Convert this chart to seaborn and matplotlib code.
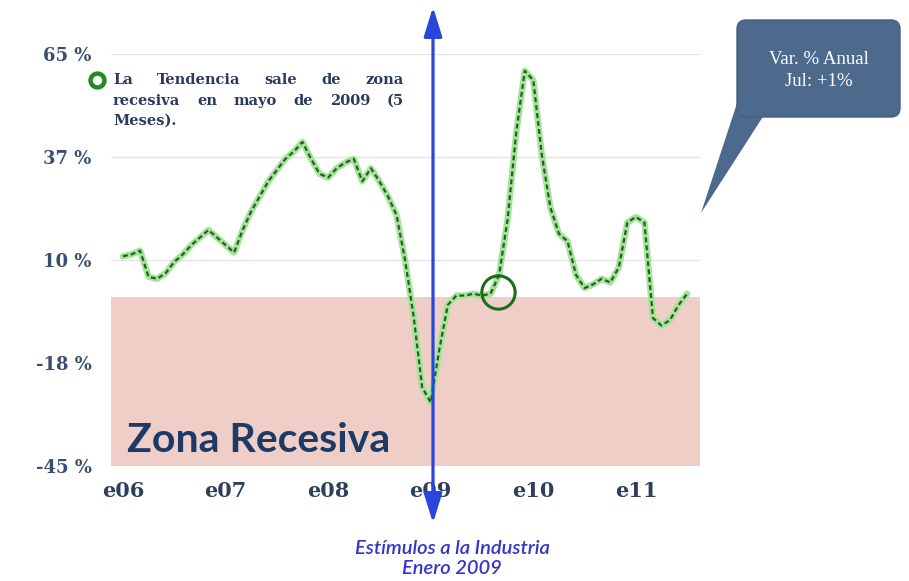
import matplotlib
matplotlib.use("Agg")
import matplotlib.pyplot as plt
import numpy as np
import pandas as pd
import seaborn as sns
from matplotlib.patches import FancyBboxPatch, Polygon

# Variación % anual, mensual: enero 2006 - julio 2011
meses = list(range(67))
variacion = [
    11, 11.5, 12.5, 5.5, 5, 6.5, 9.5, 11.5, 14, 16, 18, 16,        # 2006
    14, 12, 18, 23, 27, 31, 34, 37, 39, 41.5, 37, 33,              # 2007
    32, 34.5, 36, 37, 31, 34.5, 31, 27, 22, 10, -5, -24,           # 2008
    -28, -14, -2, 0.5, 0.5, 1, 0.5, 1, 6, 21, 44, 60.5,            # 2009
    58, 38, 24, 17, 15, 6, 2.5, 3.5, 5, 4, 8, 20,                  # 2010
    21.5, 20, -5.5, -7.5, -6, -2, 1,                               # 2011
]
anios_pos = [0, 12, 24, 36, 48, 60]
anios_lbl = ["e06", "e07", "e08", "e09", "e10", "e11"]
y_pos = [65, 37.5, 10, -17.5, -45]
y_lbl = ["65 %", "37 %", "10 %", "-18 %", "-45 %"]

df = pd.DataFrame({"mes": meses, "variacion": variacion})

sns.set_style("white")
W, H = 909, 581
fig = plt.figure(figsize=(W / 100, H / 100), dpi=100)
fig.patch.set_facecolor("white")

ax = fig.add_axes([111 / W, 1 - 466 / H, (700 - 111) / W, (466 - 54) / H])
ax.set_xlim(-1.4, 67.5)
ax.set_ylim(-45, 65)

# gridlines + recession band
for yv in y_pos:
    ax.axhline(yv, color="#e4e4e4", lw=1.0, zorder=0)
ax.axhspan(-45, 0, color="#efcec7", zorder=1, lw=0)

# series: light green halo with dark dashed trace on top
sns.lineplot(data=df, x="mes", y="variacion", ax=ax, color="#a2e596",
             lw=4.6, zorder=3, solid_capstyle="round")
sns.lineplot(data=df, x="mes", y="variacion", ax=ax, color="#2b5a2b",
             lw=1.6, zorder=4)
ax.lines[-1].set_dashes([2.2, 1.4])

# ring around the exit from the recession zone
ax.plot([43.9], [1.5], marker="o", ms=24, mfc="none", mec="#1d6b1d",
        mew=2.2, zorder=6, clip_on=False)

ax.set_xticks(anios_pos, anios_lbl)
ax.set_yticks(y_pos, y_lbl)
ax.set_xlabel("")
ax.set_ylabel("")
ax.tick_params(axis="both", length=0)
ax.tick_params(axis="x", pad=11)
ax.tick_params(axis="y", pad=14)
for lab in ax.get_xticklabels():
    lab.set_fontfamily("DejaVu Serif")
    lab.set_fontweight("bold")
    lab.set_fontsize(15)
    lab.set_color("#2e3f5c")
for lab in ax.get_yticklabels():
    lab.set_fontfamily("DejaVu Serif")
    lab.set_fontweight("bold")
    lab.set_fontsize(13)
    lab.set_color("#3a4e6e")
sns.despine(ax=ax, left=True, bottom=True)

# overlay in pixel units for annotations
ov = fig.add_axes([0, 0, 1, 1], zorder=5)
ov.set_xlim(0, W)
ov.set_ylim(H, 0)
ov.axis("off")
ov.patch.set_alpha(0)

# stimulus arrow (January 2009)
ov.annotate("", xy=(433, 7), xytext=(433, 523),
            arrowprops=dict(arrowstyle="<|-|>,head_length=0.9,head_width=0.28",
                            color="#2746da", lw=2.3, mutation_scale=20,
                            shrinkA=0, shrinkB=0))
ov.text(452, 548, "Estímulos a la Industria", style="italic", family="Lato",
        weight="semibold", size=14.5, color="#3434cf", ha="center", va="center")
ov.text(452, 569, "Enero 2009", style="italic", family="Lato",
        weight="semibold", size=14.5, color="#3434cf", ha="center", va="center")

ov.text(127, 440, "Zona Recesiva", family="Lato", weight="bold", size=29.5,
        color="#1c3a66", va="center", ha="left")

# callout
tail = Polygon([(742, 88), (701, 213), (766, 112)], closed=True,
               fc="#4d6a8c", ec="none")
ov.add_patch(tail)
box = FancyBboxPatch((737, 20), 163, 97,
                     boxstyle="round,pad=0,rounding_size=9",
                     fc="#4d6a8c", ec="#44607f", lw=1)
ov.add_patch(box)
ov.text(819, 59, "Var. % Anual", color="white", family="Liberation Serif",
        size=13.5, ha="center", va="center")
ov.text(819, 81, "Jul: +1%", color="white", family="Liberation Serif",
        size=13.5, ha="center", va="center")

# note with marker
ov.plot([97], [80], "o", ms=10, mfc="white", mec="#228b22", mew=3.2)
note_style = dict(family="DejaVu Serif", weight="bold", size=10.5,
                  color="#2b3b5e", va="center")
renderer = fig.canvas.get_renderer()


def justified(line, x0, x1, y):
    words = line.split()
    items = [ov.text(0, y, w, **note_style) for w in words]
    widths = [t.get_window_extent(renderer).width for t in items]
    gap = (x1 - x0 - sum(widths)) / max(len(words) - 1, 1)
    x = x0
    for t, w in zip(items, widths):
        t.set_x(x)
        x += w + gap


justified("La Tendencia sale de zona", 113, 404, 80)
justified("recesiva en mayo de 2009 (5", 113, 404, 101)
ov.text(113, 121, "Meses).", **note_style)

fig.savefig("out.png", dpi=100)
